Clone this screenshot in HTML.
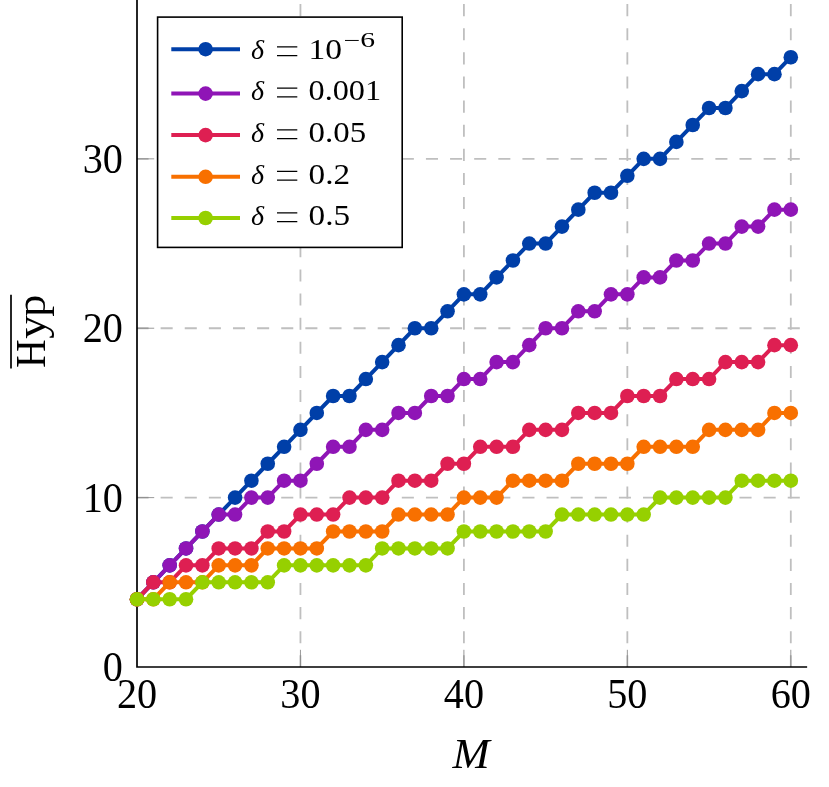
<!DOCTYPE html>
<html><head><meta charset="utf-8"><title>chart</title>
<style>html,body{margin:0;padding:0;background:#fff}svg{display:block;will-change:transform}text{font-family:"Liberation Serif",serif;fill:#000}</style></head><body>
<svg width="829" height="787" viewBox="0 0 829 787">
<rect width="829" height="787" fill="#fff"/>
<g stroke="#BFBFBF" stroke-width="1.8" stroke-dasharray="12.06 12.06" fill="none">
<path d="M300.45 667.00V-5" stroke-dashoffset="0.4"/>
<path d="M463.90 667.00V-5" stroke-dashoffset="0.4"/>
<path d="M627.35 667.00V-5" stroke-dashoffset="0.4"/>
<path d="M790.80 667.00V-5" stroke-dashoffset="0.4"/>
<path d="M137.00 497.62H807.14" stroke-dashoffset="0.5"/>
<path d="M137.00 328.23H807.14" stroke-dashoffset="0.5"/>
<path d="M137.00 158.85H807.14" stroke-dashoffset="0.5"/>
</g>
<g stroke="#7F7F7F" stroke-width="0.8" fill="none">
<path d="M300.45 667.00v-17.2"/>
<path d="M463.90 667.00v-17.2"/>
<path d="M627.35 667.00v-17.2"/>
<path d="M790.80 667.00v-17.2"/>
<path d="M137.00 497.62h17.2"/>
<path d="M137.00 328.23h17.2"/>
<path d="M137.00 158.85h17.2"/>
</g>
<path d="M137.00 -5V667.00H807.14" fill="none" stroke="#000" stroke-width="1.7" stroke-linejoin="miter"/>
<g fill="#003FA8" stroke="none"><polyline points="137.00,599.25 153.34,582.31 169.69,565.37 186.03,548.43 202.38,531.49 218.72,514.56 235.07,497.62 251.41,480.68 267.76,463.74 284.11,446.80 300.45,429.86 316.79,412.93 333.14,395.99 349.49,395.99 365.83,379.05 382.18,362.11 398.52,345.17 414.86,328.23 431.21,328.23 447.55,311.30 463.90,294.36 480.25,294.36 496.59,277.42 512.93,260.48 529.28,243.54 545.62,243.54 561.97,226.60 578.31,209.67 594.66,192.73 611.00,192.73 627.35,175.79 643.69,158.85 660.04,158.85 676.38,141.91 692.73,124.97 709.08,108.03 725.42,108.03 741.76,91.10 758.11,74.16 774.45,74.16 790.80,57.22" fill="none" stroke="#003FA8" stroke-width="4.0" stroke-linejoin="round"/>
<circle cx="137.00" cy="599.25" r="7.3"/><circle cx="153.34" cy="582.31" r="7.3"/><circle cx="169.69" cy="565.37" r="7.3"/><circle cx="186.03" cy="548.43" r="7.3"/><circle cx="202.38" cy="531.49" r="7.3"/><circle cx="218.72" cy="514.56" r="7.3"/><circle cx="235.07" cy="497.62" r="7.3"/><circle cx="251.41" cy="480.68" r="7.3"/><circle cx="267.76" cy="463.74" r="7.3"/><circle cx="284.11" cy="446.80" r="7.3"/><circle cx="300.45" cy="429.86" r="7.3"/><circle cx="316.79" cy="412.93" r="7.3"/><circle cx="333.14" cy="395.99" r="7.3"/><circle cx="349.49" cy="395.99" r="7.3"/><circle cx="365.83" cy="379.05" r="7.3"/><circle cx="382.18" cy="362.11" r="7.3"/><circle cx="398.52" cy="345.17" r="7.3"/><circle cx="414.86" cy="328.23" r="7.3"/><circle cx="431.21" cy="328.23" r="7.3"/><circle cx="447.55" cy="311.30" r="7.3"/><circle cx="463.90" cy="294.36" r="7.3"/><circle cx="480.25" cy="294.36" r="7.3"/><circle cx="496.59" cy="277.42" r="7.3"/><circle cx="512.93" cy="260.48" r="7.3"/><circle cx="529.28" cy="243.54" r="7.3"/><circle cx="545.62" cy="243.54" r="7.3"/><circle cx="561.97" cy="226.60" r="7.3"/><circle cx="578.31" cy="209.67" r="7.3"/><circle cx="594.66" cy="192.73" r="7.3"/><circle cx="611.00" cy="192.73" r="7.3"/><circle cx="627.35" cy="175.79" r="7.3"/><circle cx="643.69" cy="158.85" r="7.3"/><circle cx="660.04" cy="158.85" r="7.3"/><circle cx="676.38" cy="141.91" r="7.3"/><circle cx="692.73" cy="124.97" r="7.3"/><circle cx="709.08" cy="108.03" r="7.3"/><circle cx="725.42" cy="108.03" r="7.3"/><circle cx="741.76" cy="91.10" r="7.3"/><circle cx="758.11" cy="74.16" r="7.3"/><circle cx="774.45" cy="74.16" r="7.3"/><circle cx="790.80" cy="57.22" r="7.3"/>
</g>
<g fill="#8F15B6" stroke="none"><polyline points="137.00,599.25 153.34,582.31 169.69,565.37 186.03,548.43 202.38,531.49 218.72,514.56 235.07,514.56 251.41,497.62 267.76,497.62 284.11,480.68 300.45,480.68 316.79,463.74 333.14,446.80 349.49,446.80 365.83,429.86 382.18,429.86 398.52,412.93 414.86,412.93 431.21,395.99 447.55,395.99 463.90,379.05 480.25,379.05 496.59,362.11 512.93,362.11 529.28,345.17 545.62,328.23 561.97,328.23 578.31,311.30 594.66,311.30 611.00,294.36 627.35,294.36 643.69,277.42 660.04,277.42 676.38,260.48 692.73,260.48 709.08,243.54 725.42,243.54 741.76,226.60 758.11,226.60 774.45,209.67 790.80,209.67" fill="none" stroke="#8F15B6" stroke-width="4.0" stroke-linejoin="round"/>
<circle cx="137.00" cy="599.25" r="7.3"/><circle cx="153.34" cy="582.31" r="7.3"/><circle cx="169.69" cy="565.37" r="7.3"/><circle cx="186.03" cy="548.43" r="7.3"/><circle cx="202.38" cy="531.49" r="7.3"/><circle cx="218.72" cy="514.56" r="7.3"/><circle cx="235.07" cy="514.56" r="7.3"/><circle cx="251.41" cy="497.62" r="7.3"/><circle cx="267.76" cy="497.62" r="7.3"/><circle cx="284.11" cy="480.68" r="7.3"/><circle cx="300.45" cy="480.68" r="7.3"/><circle cx="316.79" cy="463.74" r="7.3"/><circle cx="333.14" cy="446.80" r="7.3"/><circle cx="349.49" cy="446.80" r="7.3"/><circle cx="365.83" cy="429.86" r="7.3"/><circle cx="382.18" cy="429.86" r="7.3"/><circle cx="398.52" cy="412.93" r="7.3"/><circle cx="414.86" cy="412.93" r="7.3"/><circle cx="431.21" cy="395.99" r="7.3"/><circle cx="447.55" cy="395.99" r="7.3"/><circle cx="463.90" cy="379.05" r="7.3"/><circle cx="480.25" cy="379.05" r="7.3"/><circle cx="496.59" cy="362.11" r="7.3"/><circle cx="512.93" cy="362.11" r="7.3"/><circle cx="529.28" cy="345.17" r="7.3"/><circle cx="545.62" cy="328.23" r="7.3"/><circle cx="561.97" cy="328.23" r="7.3"/><circle cx="578.31" cy="311.30" r="7.3"/><circle cx="594.66" cy="311.30" r="7.3"/><circle cx="611.00" cy="294.36" r="7.3"/><circle cx="627.35" cy="294.36" r="7.3"/><circle cx="643.69" cy="277.42" r="7.3"/><circle cx="660.04" cy="277.42" r="7.3"/><circle cx="676.38" cy="260.48" r="7.3"/><circle cx="692.73" cy="260.48" r="7.3"/><circle cx="709.08" cy="243.54" r="7.3"/><circle cx="725.42" cy="243.54" r="7.3"/><circle cx="741.76" cy="226.60" r="7.3"/><circle cx="758.11" cy="226.60" r="7.3"/><circle cx="774.45" cy="209.67" r="7.3"/><circle cx="790.80" cy="209.67" r="7.3"/>
</g>
<g fill="#DE1F52" stroke="none"><polyline points="137.00,599.25 153.34,582.31 169.69,582.31 186.03,565.37 202.38,565.37 218.72,548.43 235.07,548.43 251.41,548.43 267.76,531.49 284.11,531.49 300.45,514.56 316.79,514.56 333.14,514.56 349.49,497.62 365.83,497.62 382.18,497.62 398.52,480.68 414.86,480.68 431.21,480.68 447.55,463.74 463.90,463.74 480.25,446.80 496.59,446.80 512.93,446.80 529.28,429.86 545.62,429.86 561.97,429.86 578.31,412.93 594.66,412.93 611.00,412.93 627.35,395.99 643.69,395.99 660.04,395.99 676.38,379.05 692.73,379.05 709.08,379.05 725.42,362.11 741.76,362.11 758.11,362.11 774.45,345.17 790.80,345.17" fill="none" stroke="#DE1F52" stroke-width="4.0" stroke-linejoin="round"/>
<circle cx="137.00" cy="599.25" r="7.3"/><circle cx="153.34" cy="582.31" r="7.3"/><circle cx="169.69" cy="582.31" r="7.3"/><circle cx="186.03" cy="565.37" r="7.3"/><circle cx="202.38" cy="565.37" r="7.3"/><circle cx="218.72" cy="548.43" r="7.3"/><circle cx="235.07" cy="548.43" r="7.3"/><circle cx="251.41" cy="548.43" r="7.3"/><circle cx="267.76" cy="531.49" r="7.3"/><circle cx="284.11" cy="531.49" r="7.3"/><circle cx="300.45" cy="514.56" r="7.3"/><circle cx="316.79" cy="514.56" r="7.3"/><circle cx="333.14" cy="514.56" r="7.3"/><circle cx="349.49" cy="497.62" r="7.3"/><circle cx="365.83" cy="497.62" r="7.3"/><circle cx="382.18" cy="497.62" r="7.3"/><circle cx="398.52" cy="480.68" r="7.3"/><circle cx="414.86" cy="480.68" r="7.3"/><circle cx="431.21" cy="480.68" r="7.3"/><circle cx="447.55" cy="463.74" r="7.3"/><circle cx="463.90" cy="463.74" r="7.3"/><circle cx="480.25" cy="446.80" r="7.3"/><circle cx="496.59" cy="446.80" r="7.3"/><circle cx="512.93" cy="446.80" r="7.3"/><circle cx="529.28" cy="429.86" r="7.3"/><circle cx="545.62" cy="429.86" r="7.3"/><circle cx="561.97" cy="429.86" r="7.3"/><circle cx="578.31" cy="412.93" r="7.3"/><circle cx="594.66" cy="412.93" r="7.3"/><circle cx="611.00" cy="412.93" r="7.3"/><circle cx="627.35" cy="395.99" r="7.3"/><circle cx="643.69" cy="395.99" r="7.3"/><circle cx="660.04" cy="395.99" r="7.3"/><circle cx="676.38" cy="379.05" r="7.3"/><circle cx="692.73" cy="379.05" r="7.3"/><circle cx="709.08" cy="379.05" r="7.3"/><circle cx="725.42" cy="362.11" r="7.3"/><circle cx="741.76" cy="362.11" r="7.3"/><circle cx="758.11" cy="362.11" r="7.3"/><circle cx="774.45" cy="345.17" r="7.3"/><circle cx="790.80" cy="345.17" r="7.3"/>
</g>
<g fill="#F87000" stroke="none"><polyline points="137.00,599.25 153.34,599.25 169.69,582.31 186.03,582.31 202.38,582.31 218.72,565.37 235.07,565.37 251.41,565.37 267.76,548.43 284.11,548.43 300.45,548.43 316.79,548.43 333.14,531.49 349.49,531.49 365.83,531.49 382.18,531.49 398.52,514.56 414.86,514.56 431.21,514.56 447.55,514.56 463.90,497.62 480.25,497.62 496.59,497.62 512.93,480.68 529.28,480.68 545.62,480.68 561.97,480.68 578.31,463.74 594.66,463.74 611.00,463.74 627.35,463.74 643.69,446.80 660.04,446.80 676.38,446.80 692.73,446.80 709.08,429.86 725.42,429.86 741.76,429.86 758.11,429.86 774.45,412.93 790.80,412.93" fill="none" stroke="#F87000" stroke-width="4.0" stroke-linejoin="round"/>
<circle cx="137.00" cy="599.25" r="7.3"/><circle cx="153.34" cy="599.25" r="7.3"/><circle cx="169.69" cy="582.31" r="7.3"/><circle cx="186.03" cy="582.31" r="7.3"/><circle cx="202.38" cy="582.31" r="7.3"/><circle cx="218.72" cy="565.37" r="7.3"/><circle cx="235.07" cy="565.37" r="7.3"/><circle cx="251.41" cy="565.37" r="7.3"/><circle cx="267.76" cy="548.43" r="7.3"/><circle cx="284.11" cy="548.43" r="7.3"/><circle cx="300.45" cy="548.43" r="7.3"/><circle cx="316.79" cy="548.43" r="7.3"/><circle cx="333.14" cy="531.49" r="7.3"/><circle cx="349.49" cy="531.49" r="7.3"/><circle cx="365.83" cy="531.49" r="7.3"/><circle cx="382.18" cy="531.49" r="7.3"/><circle cx="398.52" cy="514.56" r="7.3"/><circle cx="414.86" cy="514.56" r="7.3"/><circle cx="431.21" cy="514.56" r="7.3"/><circle cx="447.55" cy="514.56" r="7.3"/><circle cx="463.90" cy="497.62" r="7.3"/><circle cx="480.25" cy="497.62" r="7.3"/><circle cx="496.59" cy="497.62" r="7.3"/><circle cx="512.93" cy="480.68" r="7.3"/><circle cx="529.28" cy="480.68" r="7.3"/><circle cx="545.62" cy="480.68" r="7.3"/><circle cx="561.97" cy="480.68" r="7.3"/><circle cx="578.31" cy="463.74" r="7.3"/><circle cx="594.66" cy="463.74" r="7.3"/><circle cx="611.00" cy="463.74" r="7.3"/><circle cx="627.35" cy="463.74" r="7.3"/><circle cx="643.69" cy="446.80" r="7.3"/><circle cx="660.04" cy="446.80" r="7.3"/><circle cx="676.38" cy="446.80" r="7.3"/><circle cx="692.73" cy="446.80" r="7.3"/><circle cx="709.08" cy="429.86" r="7.3"/><circle cx="725.42" cy="429.86" r="7.3"/><circle cx="741.76" cy="429.86" r="7.3"/><circle cx="758.11" cy="429.86" r="7.3"/><circle cx="774.45" cy="412.93" r="7.3"/><circle cx="790.80" cy="412.93" r="7.3"/>
</g>
<g fill="#96D000" stroke="none"><polyline points="137.00,599.25 153.34,599.25 169.69,599.25 186.03,599.25 202.38,582.31 218.72,582.31 235.07,582.31 251.41,582.31 267.76,582.31 284.11,565.37 300.45,565.37 316.79,565.37 333.14,565.37 349.49,565.37 365.83,565.37 382.18,548.43 398.52,548.43 414.86,548.43 431.21,548.43 447.55,548.43 463.90,531.49 480.25,531.49 496.59,531.49 512.93,531.49 529.28,531.49 545.62,531.49 561.97,514.56 578.31,514.56 594.66,514.56 611.00,514.56 627.35,514.56 643.69,514.56 660.04,497.62 676.38,497.62 692.73,497.62 709.08,497.62 725.42,497.62 741.76,480.68 758.11,480.68 774.45,480.68 790.80,480.68" fill="none" stroke="#96D000" stroke-width="4.0" stroke-linejoin="round"/>
<circle cx="137.00" cy="599.25" r="7.3"/><circle cx="153.34" cy="599.25" r="7.3"/><circle cx="169.69" cy="599.25" r="7.3"/><circle cx="186.03" cy="599.25" r="7.3"/><circle cx="202.38" cy="582.31" r="7.3"/><circle cx="218.72" cy="582.31" r="7.3"/><circle cx="235.07" cy="582.31" r="7.3"/><circle cx="251.41" cy="582.31" r="7.3"/><circle cx="267.76" cy="582.31" r="7.3"/><circle cx="284.11" cy="565.37" r="7.3"/><circle cx="300.45" cy="565.37" r="7.3"/><circle cx="316.79" cy="565.37" r="7.3"/><circle cx="333.14" cy="565.37" r="7.3"/><circle cx="349.49" cy="565.37" r="7.3"/><circle cx="365.83" cy="565.37" r="7.3"/><circle cx="382.18" cy="548.43" r="7.3"/><circle cx="398.52" cy="548.43" r="7.3"/><circle cx="414.86" cy="548.43" r="7.3"/><circle cx="431.21" cy="548.43" r="7.3"/><circle cx="447.55" cy="548.43" r="7.3"/><circle cx="463.90" cy="531.49" r="7.3"/><circle cx="480.25" cy="531.49" r="7.3"/><circle cx="496.59" cy="531.49" r="7.3"/><circle cx="512.93" cy="531.49" r="7.3"/><circle cx="529.28" cy="531.49" r="7.3"/><circle cx="545.62" cy="531.49" r="7.3"/><circle cx="561.97" cy="514.56" r="7.3"/><circle cx="578.31" cy="514.56" r="7.3"/><circle cx="594.66" cy="514.56" r="7.3"/><circle cx="611.00" cy="514.56" r="7.3"/><circle cx="627.35" cy="514.56" r="7.3"/><circle cx="643.69" cy="514.56" r="7.3"/><circle cx="660.04" cy="497.62" r="7.3"/><circle cx="676.38" cy="497.62" r="7.3"/><circle cx="692.73" cy="497.62" r="7.3"/><circle cx="709.08" cy="497.62" r="7.3"/><circle cx="725.42" cy="497.62" r="7.3"/><circle cx="741.76" cy="480.68" r="7.3"/><circle cx="758.11" cy="480.68" r="7.3"/><circle cx="774.45" cy="480.68" r="7.3"/><circle cx="790.80" cy="480.68" r="7.3"/>
</g>
<rect x="157.6" y="17.1" width="244.6" height="230.3" fill="#fff" stroke="#000" stroke-width="1.6"/>
<path d="M171.3 49.2H240" stroke="#003FA8" stroke-width="4.0" fill="none"/><circle cx="205.6" cy="49.2" r="7.3" fill="#003FA8"/>
<text x="251" y="59" font-size="28" font-style="italic">δ</text>
<path d="M277 46.9H297.3M277 55.6H297.3" stroke="#000" stroke-width="1.3" fill="none"/>
<text x="308.6" y="59" font-size="28.5" textLength="33.5" lengthAdjust="spacingAndGlyphs">10</text>
<path d="M171.3 93.6H240" stroke="#8F15B6" stroke-width="4.0" fill="none"/><circle cx="205.6" cy="93.6" r="7.3" fill="#8F15B6"/>
<text x="251" y="100.2" font-size="28" font-style="italic">δ</text>
<path d="M277 88.1H297.3M277 96.8H297.3" stroke="#000" stroke-width="1.3" fill="none"/>
<text x="308.6" y="100.2" font-size="28.5" textLength="72.5" lengthAdjust="spacingAndGlyphs">0.001</text>
<path d="M171.3 135.1H240" stroke="#DE1F52" stroke-width="4.0" fill="none"/><circle cx="205.6" cy="135.1" r="7.3" fill="#DE1F52"/>
<text x="251" y="142" font-size="28" font-style="italic">δ</text>
<path d="M277 129.9H297.3M277 138.6H297.3" stroke="#000" stroke-width="1.3" fill="none"/>
<text x="308.6" y="142" font-size="28.5" textLength="57.5" lengthAdjust="spacingAndGlyphs">0.05</text>
<path d="M171.3 176.8H240" stroke="#F87000" stroke-width="4.0" fill="none"/><circle cx="205.6" cy="176.8" r="7.3" fill="#F87000"/>
<text x="251" y="183.5" font-size="28" font-style="italic">δ</text>
<path d="M277 171.4H297.3M277 180.1H297.3" stroke="#000" stroke-width="1.3" fill="none"/>
<text x="308.6" y="183.5" font-size="28.5" textLength="41.5" lengthAdjust="spacingAndGlyphs">0.2</text>
<path d="M171.3 218H240" stroke="#96D000" stroke-width="4.0" fill="none"/><circle cx="205.6" cy="218" r="7.3" fill="#96D000"/>
<text x="251" y="225" font-size="28" font-style="italic">δ</text>
<path d="M277 212.9H297.3M277 221.6H297.3" stroke="#000" stroke-width="1.3" fill="none"/>
<text x="308.6" y="225" font-size="28.5" textLength="41.5" lengthAdjust="spacingAndGlyphs">0.5</text>
<text x="343.5" y="47.3" font-size="20" textLength="31.5" lengthAdjust="spacingAndGlyphs">−6</text>
<text x="116.90" y="708.3" font-size="41.3" textLength="40.2" lengthAdjust="spacingAndGlyphs">20</text>
<text x="280.35" y="708.3" font-size="41.3" textLength="40.2" lengthAdjust="spacingAndGlyphs">30</text>
<text x="443.80" y="708.3" font-size="41.3" textLength="40.2" lengthAdjust="spacingAndGlyphs">40</text>
<text x="607.25" y="708.3" font-size="41.3" textLength="40.2" lengthAdjust="spacingAndGlyphs">50</text>
<text x="770.70" y="708.3" font-size="41.3" textLength="40.2" lengthAdjust="spacingAndGlyphs">60</text>
<text x="102.80" y="681.20" font-size="41.3" textLength="20.1" lengthAdjust="spacingAndGlyphs">0</text>
<text x="82.70" y="511.82" font-size="41.3" textLength="40.2" lengthAdjust="spacingAndGlyphs">10</text>
<text x="82.70" y="342.43" font-size="41.3" textLength="40.2" lengthAdjust="spacingAndGlyphs">20</text>
<text x="82.70" y="173.05" font-size="41.3" textLength="40.2" lengthAdjust="spacingAndGlyphs">30</text>
<text x="452.5" y="768.4" font-size="41.3" font-style="italic" textLength="37.2" lengthAdjust="spacingAndGlyphs">M</text>
<g transform="translate(44.5 331.6) rotate(-90)"><text x="-36.3" y="0" font-size="42" textLength="28.7" lengthAdjust="spacingAndGlyphs">H</text><text x="-7.1" y="0" font-size="40" textLength="23.3" lengthAdjust="spacingAndGlyphs">y</text><text x="14.8" y="0" font-size="40" textLength="22" lengthAdjust="spacingAndGlyphs">p</text><path d="M-36.8 -33.5H36.9" stroke="#000" stroke-width="1.7" fill="none"/></g>
</svg></body></html>
